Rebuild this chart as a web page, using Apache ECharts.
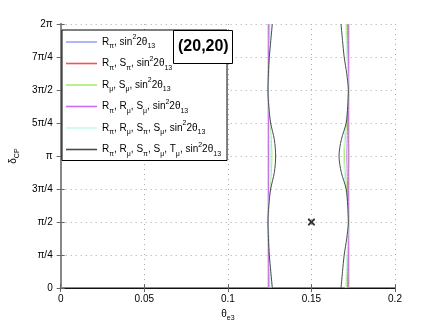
<!DOCTYPE html>
<html>
<head>
<meta charset="utf-8">
<script src="https://cdn.jsdelivr.net/npm/echarts@6/dist/echarts.min.js"></script>
<style>html,body{margin:0;padding:0;background:#fff;}#c{width:436px;height:327px;}</style>
</head>
<body>
<div id="c"></div>
<script>
// δ_CP sample positions, in units of π
const deltaPi = [0, 0.125, 0.25, 0.375, 0.5, 0.625, 0.75, 0.875, 1, 1.125, 1.25, 1.375, 1.5, 1.625, 1.75, 1.875, 2];
const yTickLabels = ['0', 'π/4', 'π/2', '3π/4', 'π', '5π/4', '3π/2', '7π/4', '2π'];
const xTickLabels = ['0', '0.05', '0.1', '0.15', '0.2'];
const seriesNames = ['s1', 's2', 's3', 's4', 's5', 's6'];
// θ_e3 values of each contour (left and right branch) at the δ positions above
const s1Left  = [0.1241,0.1241,0.1241,0.1241,0.1241,0.1241,0.1241,0.1241,0.1241,0.1241,0.1241,0.1241,0.1241,0.1241,0.1241,0.1241,0.1241];
const s1Right = [0.1724,0.1724,0.1724,0.1724,0.1724,0.1724,0.1724,0.1724,0.1724,0.1724,0.1724,0.1724,0.1724,0.1724,0.1724,0.1724,0.1724];
const s2Left  = [0.1243,0.1243,0.1243,0.1243,0.1243,0.1243,0.1243,0.1243,0.1243,0.1243,0.1243,0.1243,0.1243,0.1243,0.1243,0.1243,0.1243];
const s2Right = [0.1722,0.1722,0.1722,0.1722,0.1722,0.1722,0.1722,0.1722,0.1723,0.1722,0.1722,0.1722,0.1722,0.1722,0.1722,0.1722,0.1722];
const s3Left  = [0.1248,0.1246,0.1244,0.1242,0.1241,0.1245,0.1252,0.1260,0.1264,0.1260,0.1252,0.1245,0.1241,0.1242,0.1244,0.1246,0.1248];
const s3Right = [0.1708,0.1711,0.1714,0.1718,0.1721,0.1719,0.1711,0.1702,0.1698,0.1702,0.1711,0.1719,0.1721,0.1718,0.1714,0.1711,0.1708];
const s4Left  = [0.1245,0.1245,0.1244,0.1244,0.1243,0.1244,0.1244,0.1245,0.1245,0.1245,0.1244,0.1244,0.1243,0.1244,0.1244,0.1245,0.1245];
const s4Right = [0.1716,0.1717,0.1719,0.1720,0.1722,0.1720,0.1717,0.1714,0.1712,0.1714,0.1717,0.1720,0.1722,0.1720,0.1719,0.1717,0.1716];
const s5Left  = [0.1260,0.1255,0.1250,0.1245,0.1241,0.1245,0.1250,0.1253,0.1255,0.1253,0.1250,0.1245,0.1241,0.1245,0.1250,0.1255,0.1260];
const s5Right = [0.1704,0.1708,0.1713,0.1717,0.1721,0.1716,0.1705,0.1696,0.1692,0.1696,0.1705,0.1716,0.1721,0.1717,0.1713,0.1708,0.1704];
const s6Left  = [0.1266,0.1257,0.1248,0.1243,0.1240,0.1245,0.1256,0.1278,0.1286,0.1278,0.1256,0.1245,0.1240,0.1243,0.1248,0.1257,0.1266];
const s6Right = [0.1677,0.1686,0.1696,0.1711,0.1721,0.1717,0.1708,0.1679,0.1665,0.1679,0.1708,0.1717,0.1721,0.1711,0.1696,0.1686,0.1677];
const truePoint = [[0.15, 0.5]];

const legendRich = {
  '0': '{t|R}{b|π}{t|, sin}{p|2}{t|2θ}{b|13}',
  '1': '{t|R}{b|π}{t|, S}{b|π}{t|, sin}{p|2}{t|2θ}{b|13}',
  '2': '{t|R}{b|μ}{t|, S}{b|μ}{t|, sin}{p|2}{t|2θ}{b|13}',
  '3': '{t|R}{b|π}{t|, R}{b|μ}{t|, S}{b|μ}{t|, sin}{p|2}{t|2θ}{b|13}',
  '4': '{t|R}{b|π}{t|, R}{b|μ}{t|, S}{b|π}{t|, S}{b|μ}{t|, sin}{p|2}{t|2θ}{b|13}',
  '5': '{t|R}{b|π}{t|, R}{b|μ}{t|, S}{b|π}{t|, S}{b|μ}{t|, T}{b|μ}{t|, sin}{p|2}{t|2θ}{b|13}'
};
const colors = ['#9ea4fa', '#ff4d4d', '#a6ee6e', '#cc6cf6', '#c4fbee', '#4a4a4a'];
const zOrder = [4, 3, 5, 6, 7, 8];
const lefts = [s1Left, s2Left, s3Left, s4Left, s5Left, s6Left];
const rights = [s1Right, s2Right, s3Right, s4Right, s5Right, s6Right];

const FONT = 'Liberation Sans, Arial, sans-serif';
const series = [];
seriesNames.forEach((nm, i) => {
  [lefts[i], rights[i]].forEach(arr => {
    series.push({
      type: 'line', name: nm, data: arr.map((t, k) => [t, deltaPi[k]]),
      showSymbol: false, smooth: 0.3, color: colors[i],
      lineStyle: { width: 1, color: colors[i] }, z: zOrder[i], animation: false
    });
  });
});
series.push({
  type: 'scatter', name: 'true', data: truePoint, symbol:
  'path://M0,0L2,0L5,3L8,0L10,0L10,2L7,5L10,8L10,10L8,10L5,7L2,10L0,10L0,8L3,5L0,2Z',
  symbolSize: 7, itemStyle: { color: '#000' }, z: 20, animation: false
});

const subRich = {
  t: { fontFamily: FONT, fontSize: 10, lineHeight: 16, color: '#000' },
  b: { fontFamily: FONT, fontSize: 7, lineHeight: 8, verticalAlign: 'bottom', color: '#000' },
  p: { fontFamily: FONT, fontSize: 7, lineHeight: 8, verticalAlign: 'top', color: '#000' }
};

const chart = echarts.init(document.getElementById('c'), null, { renderer: 'canvas' });
chart.setOption({
  animation: false,
  backgroundColor: '#fff',
  grid: { left: 57, right: 41, top: 24, bottom: 36 },
  title: {
    text: '(20,20)', left: 173, top: 30, z: 30,
    backgroundColor: '#fff', borderColor: '#000', borderWidth: 1,
    padding: [9, 4, 9, 5],
    textStyle: { fontFamily: FONT, fontWeight: 'bold', fontSize: 16, color: '#000' }
  },
  legend: {
    data: seriesNames, orient: 'vertical', left: 62, top: 30,
    backgroundColor: '#fff', borderColor: '#000', borderWidth: 1,
    padding: [4, 6, 3, 4], itemGap: 5.5, itemWidth: 31, itemHeight: 1.6, icon: 'rect',
    z: 25,
    formatter: n => legendRich[String(seriesNames.indexOf(n))],
    textStyle: { fontFamily: FONT, color: '#000', fontSize: 10, rich: subRich }
  },
  xAxis: [{
    type: 'value', min: 0, max: 0.2, interval: 0.05,
    name: '{t|θ}{b|e3}', nameLocation: 'middle', nameGap: 16,
    nameTextStyle: { rich: subRich },
    axisLine: { show: true, onZero: false, lineStyle: { color: '#888', width: 2 } },
    axisTick: { show: true, inside: true, length: 4, lineStyle: { color: '#666' } },
    axisLabel: { fontFamily: FONT, fontSize: 10, color: '#000', margin: 6,
      formatter: v => xTickLabels[Math.round(v / 0.05)] },
    splitLine: { show: true, lineStyle: { color: '#aaa', type: [1, 4], width: 1 } }
  }, {
    type: 'value', position: 'top', min: 0, max: 0.2, interval: 0.05,
    axisLine: { show: true, lineStyle: { color: '#111', width: 1 } },
    axisTick: { show: true, inside: true, length: 4, lineStyle: { color: '#666' } },
    axisLabel: { show: false }, splitLine: { show: false }
  }],
  yAxis: [{
    type: 'value', min: 0, max: 2, interval: 0.25,
    name: '{t|δ}{b|CP}', nameLocation: 'middle', nameGap: 26, nameRotate: 90,
    nameTextStyle: { rich: subRich },
    axisLine: { show: true, onZero: false, lineStyle: { color: '#888', width: 2 } },
    axisTick: { show: true, inside: true, length: 4, lineStyle: { color: '#666' } },
    axisLabel: { fontFamily: FONT, fontSize: 10, color: '#000', margin: 8,
      formatter: v => yTickLabels[Math.round(v * 4)] },
    splitLine: { show: true, lineStyle: { color: '#aaa', type: [1, 4], width: 1 } }
  }, {
    type: 'value', position: 'right', min: 0, max: 2, interval: 0.25,
    axisLine: { show: true, lineStyle: { color: '#888', width: 2 } },
    axisTick: { show: true, inside: true, length: 4, lineStyle: { color: '#666' } },
    axisLabel: { show: false }, splitLine: { show: false }
  }],
  series: series
});
</script>
</body>
</html>
